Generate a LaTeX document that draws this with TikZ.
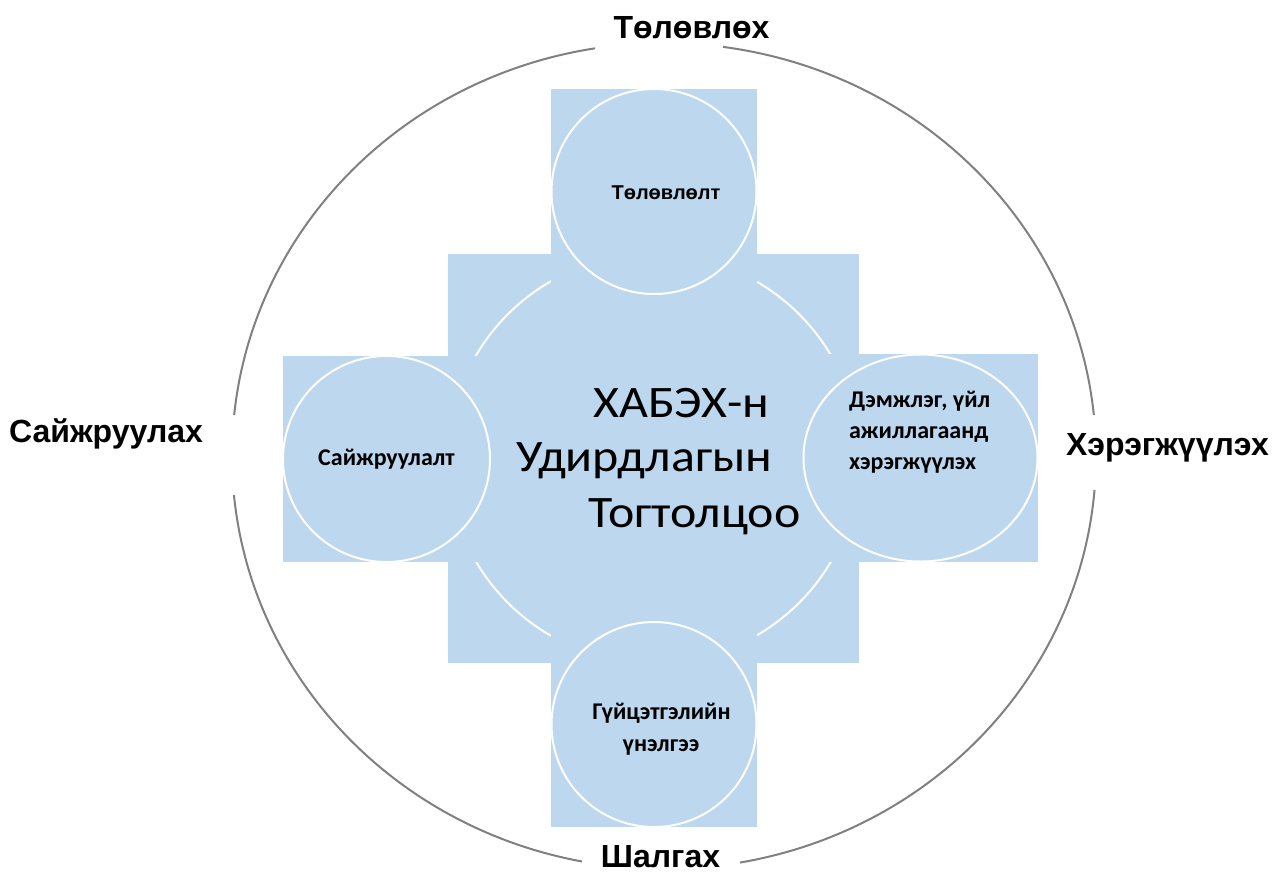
\documentclass[tikz,border=0pt]{standalone}
\usepackage{fontspec}
\setmainfont{Carlito}
\newfontfamily\arialf{Liberation Sans}
\newfontfamily\calf{Carlito}
\definecolor{cellblue}{HTML}{BDD7EE}
\definecolor{ringgray}{HTML}{808080}
\tikzset{
  cell/.style={fill=cellblue},
  ringline/.style={draw=white, line width=2pt},
  outerring/.style={draw=ringgray, line width=2pt},
  biglabel/.style={font=\arialf\bfseries\fontsize{32}{38}\selectfont, inner sep=0pt, anchor=base},
  centertext/.style={font=\calf\fontsize{45}{54}\selectfont, inner sep=0pt, anchor=base west, xscale=1.11, transform shape},
  toptext/.style={font=\arialf\bfseries\fontsize{20}{24}\selectfont, inner sep=0pt, anchor=base},
  celltext/.style={font=\calf\bfseries\fontsize{24}{30}\selectfont, inner sep=0pt},
}
\begin{document}
\begin{tikzpicture}[x=1pt,y=-1pt]
\useasboundingbox (0,0) rectangle (1273,873);
% outer ring with gaps
\coordinate (oc) at (664,456);
\draw[outerring] (oc) ++(-5.70:432 and 413) arc[start angle=-5.70, end angle=-82.15, x radius=432, y radius=413];
\draw[outerring] (oc) ++(-99.19:432 and 413) arc[start angle=-99.19, end angle=-174.30, x radius=432, y radius=413];
\draw[outerring] (oc) ++(-185.42:432 and 413) arc[start angle=-185.42, end angle=-259.06, x radius=432, y radius=413];
\draw[outerring] (oc) ++(-280.13:432 and 413) arc[start angle=-280.13, end angle=-355.28, x radius=432, y radius=413];
% center shape
\fill[cell] (448,254) rectangle (859,663);
\draw[ringline] (653.5,458.5) ellipse [x radius=205.5, y radius=204.5];
% satellites
\fill[cell] (551,89) rectangle (757,294);
\draw[ringline] (654,191.5) circle [radius=102.5];
\fill[cell] (283,356) rectangle (490,562);
\draw[ringline] (386.5,459) ellipse [x radius=103.5, y radius=103];
\fill[cell] (803,354) rectangle (1038,562);
\draw[ringline] (920.5,458) ellipse [x radius=117, y radius=103.5];
\fill[cell] (551,622) rectangle (757,827);
\draw[ringline] (654,724.5) circle [radius=102.5];
% center text
\node[centertext] (c1) at (593,417) {ХАБЭХ-н};
\node[centertext] (c2) at (516,471) {Удирдлагын};
\node[centertext] (c3) at (588,527) {Тогтолцоо};
% satellite texts
\node[toptext] (s1) at (666,199) {Төлөвлөлт};
\node[celltext, anchor=base] (s2) at (386.5,465) {Сайжруулалт};
\node[celltext, anchor=base west] (s3a) at (849,407) {Дэмжлэг, үйл};
\node[celltext, anchor=base west] (s3b) at (849,438) {ажиллагаанд};
\node[celltext, anchor=base west] (s3c) at (849,469) {хэрэгжүүлэх};
\node[celltext, anchor=base] (s4a) at (661.5,719) {Гүйцэтгэлийн};
\node[celltext, anchor=base] (s4b) at (661,751) {үнэлгээ};
% outer labels
\node[biglabel] (lt) at (691.5,38) {Төлөвлөх};
\node[biglabel] (ll) at (106,442) {Сайжруулах};
\node[biglabel] (lr) at (1167.5,455) {Хэрэгжүүлэх};
\node[biglabel] (lb) at (660.5,867) {Шалгах};
\end{tikzpicture}
\end{document}
